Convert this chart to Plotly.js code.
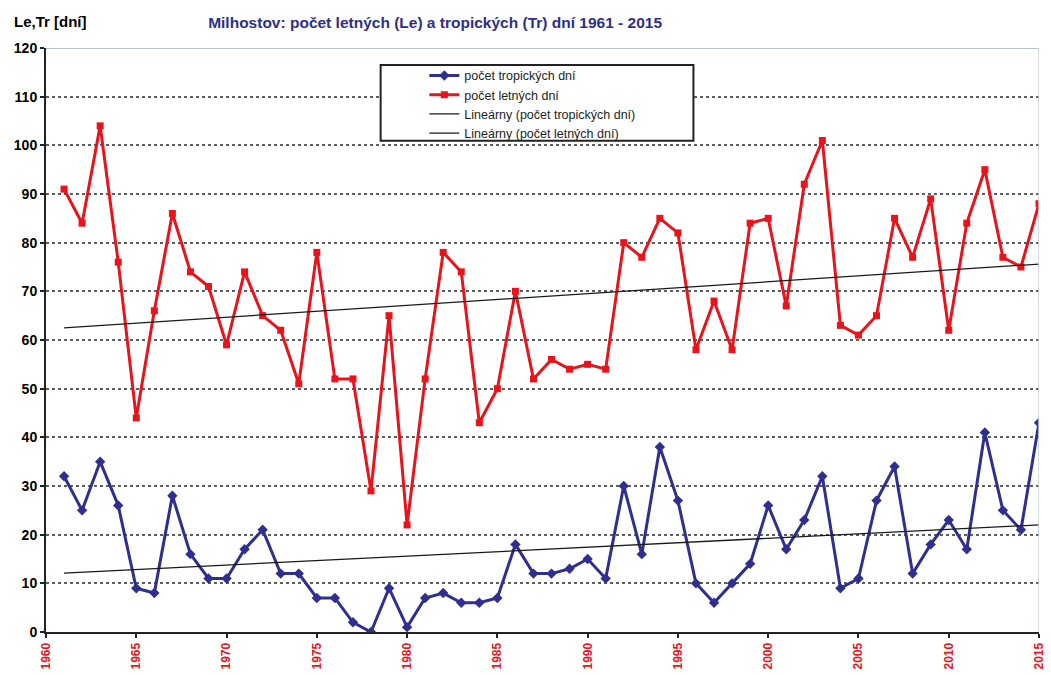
<!DOCTYPE html>
<html>
<head>
<meta charset="utf-8">
<script src="https://cdn.plot.ly/plotly-3.0.1.min.js"></script>
<style>html,body{margin:0;padding:0;background:#fff;}#chart{width:1051px;height:675px;}</style>
</head>
<body>
<div id="chart"></div>
<script>
const years = [1961,1962,1963,1964,1965,1966,1967,1968,1969,1970,1971,1972,1973,1974,1975,1976,1977,1978,1979,1980,1981,1982,1983,1984,1985,1986,1987,1988,1989,1990,1991,1992,1993,1994,1995,1996,1997,1998,1999,2000,2001,2002,2003,2004,2005,2006,2007,2008,2009,2010,2011,2012,2013,2014,2015];
const tropicke = [32,25,35,26,9,8,28,16,11,11,17,21,12,12,7,7,2,0,9,1,7,8,6,6,7,18,12,12,13,15,11,30,16,38,27,10,6,10,14,26,17,23,32,9,11,27,34,12,18,23,17,41,25,21,43];
const letne = [91,84,104,76,44,66,86,74,71,59,74,65,62,51,78,52,52,29,65,22,52,78,74,43,50,70,52,56,54,55,54,80,77,85,82,58,68,58,84,85,67,92,101,63,61,65,85,77,89,62,84,95,77,75,88];
const trendYears = [1961, 2015];
const trendTropicke = [12.1, 22.0];
const trendLetne = [62.5, 75.6];
const xTicks = [1960,1965,1970,1975,1980,1985,1990,1995,2000,2005,2010,2015];
const names = ['počet tropických dní','počet letných dní','Lineárny (počet tropických dní)','Lineárny (počet letných dní)'];

const FONT = 'Arial, "Liberation Sans", sans-serif';
const traces = [
  {x: years, y: tropicke, name: names[0], type: 'scatter', mode: 'lines+markers',
   line: {color: '#2f2f8f', width: 3}, marker: {symbol: 'diamond', size: 8, color: '#2f2f8f'}},
  {x: years, y: letne, name: names[1], type: 'scatter', mode: 'lines+markers',
   line: {color: '#e8131b', width: 3}, marker: {symbol: 'square', size: 7, color: '#e8131b'}},
  {x: trendYears, y: trendTropicke, name: names[2], type: 'scatter', mode: 'lines',
   line: {color: '#1a1a1a', width: 1.3}},
  {x: trendYears, y: trendLetne, name: names[3], type: 'scatter', mode: 'lines',
   line: {color: '#1a1a1a', width: 1.3}}
];

const layout = {
  width: 1051, height: 675,
  margin: {l: 46, r: 12, t: 48, b: 43},
  paper_bgcolor: '#fff', plot_bgcolor: '#fff',
  font: {family: FONT, color: '#000'},
  title: {text: 'Milhostov: počet letných (Le) a tropických (Tr) dní 1961 - 2015',
          font: {family: FONT, size: 15.5, color: '#2e2e8c', weight: 'bold'},
          xref: 'container', x: 0.414, xanchor: 'center', yref: 'container', y: 0.966, yanchor: 'middle'},
  xaxis: {range: [1960, 2015], tickvals: xTicks, ticktext: xTicks.map(String), tickangle: -90,
          tickfont: {family: FONT, size: 12, color: '#e8131b', weight: 'bold'},
          showgrid: false, zeroline: false, showline: true, linecolor: '#222', linewidth: 2,
          ticks: 'outside', ticklen: 4, tickwidth: 2, tickcolor: '#222'},
  yaxis: {range: [0, 120], dtick: 10, tickfont: {family: FONT, size: 14, color: '#000', weight: 'bold'},
          showgrid: true, gridcolor: '#5a5f63', gridwidth: 2, griddash: 'dot', zeroline: false,
          showline: true, linecolor: '#222', linewidth: 2,
          ticks: 'outside', ticklen: 4, tickwidth: 2, tickcolor: '#222'},
  showlegend: true,
  legend: {x: 0.381, xanchor: 'left', y: 0.978, yanchor: 'top', bgcolor: 'rgba(0,0,0,0)', borderwidth: 0,
           font: {family: FONT, size: 12.5, color: '#222'}, tracegroupgap: 0},
  shapes: [
    {type: 'line', xref: 'paper', yref: 'y', x0: 0, x1: 1, y0: 120, y1: 120, line: {color: '#b8c3cc', width: 2}},
    {type: 'line', xref: 'x', yref: 'paper', x0: 2015, x1: 2015, y0: 0, y1: 1, line: {color: '#c5d0d8', width: 1.5}},
    {type: 'rect', xref: 'paper', yref: 'paper', x0: 0.337, x1: 0.652, y0: 0.841, y1: 0.971,
     fillcolor: '#fff', line: {color: '#222', width: 2}, layer: 'above'}
  ],
  annotations: [
    {text: 'Le,Tr [dní]', xref: 'paper', yref: 'paper', x: -0.034, xanchor: 'left', y: 1.045, yanchor: 'middle',
     showarrow: false, font: {family: FONT, size: 15, color: '#000', weight: 'bold'}}
  ]
};

Plotly.newPlot('chart', traces, layout, {displayModeBar: false, staticPlot: true});
</script>
</body>
</html>
